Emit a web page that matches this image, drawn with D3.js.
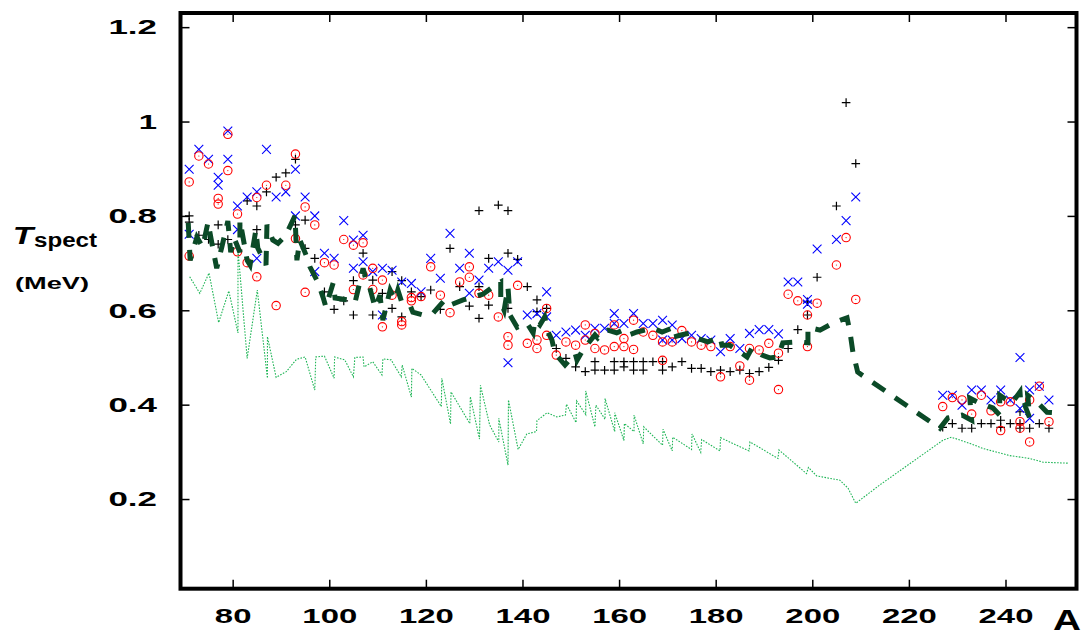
<!DOCTYPE html>
<html>
<head>
<meta charset="utf-8">
<script src="https://cdn.jsdelivr.net/npm/d3@7"></script>
<style>
  html, body { margin: 0; padding: 0; background: #fff; }
  svg { display: block; }
  text { font-family: "Liberation Sans", Arial, sans-serif; }
</style>
</head>
<body>
<svg id="chart" width="1087" height="637"></svg>
<script>
// Axis ranges and ticks
const xDomain = [69.2, 254.7];
const yDomain = [0.01, 1.23];
const xTicks = [80, 100, 120, 140, 160, 180, 200, 220, 240];
const yTicks = [0.2, 0.4, 0.6, 0.8, 1.0, 1.2];
const yTickLabels = ["0.2", "0.4", "0.6", "0.8", "1", "1.2"];

// Spectral temperature, black "+" series  [A, T (MeV)]
const plusPoints = [
  [71,0.800],[71,0.787],[73,0.759],[75,0.750],[77,0.781],[77,0.740],[79,0.750],
  [83,0.832],[85,0.821],[85,0.771],[87,0.851],[89,0.882],[91,0.891],[93,0.920],
  [93,0.781],[95,0.791],[95,0.731],[97,0.710],[99,0.639],[101,0.602],[103,0.620],
  [105,0.590],[105,0.663],[107,0.721],[109,0.590],[109,0.664],[111,0.636],[113,0.604],
  [113,0.682],[115,0.586],[115,0.663],[117,0.639],[119,0.629],[121,0.643],[123,0.602],
  [125,0.731],[127,0.650],[129,0.609],[131,0.811],[131,0.583],[131,0.650],[133,0.710],
  [133,0.611],[135,0.823],[137,0.811],[137,0.721],[137,0.604],[139,0.708],[141,0.650],
  [143,0.622],[143,0.597],[145,0.604],[147,0.519],[149,0.498],[151,0.480],[153,0.470],
  [155,0.491],[155,0.473],[157,0.473],[159,0.491],[159,0.473],[161,0.491],[161,0.480],
  [163,0.491],[163,0.473],[165,0.491],[165,0.473],[167,0.491],[169,0.491],[169,0.473],
  [171,0.480],[173,0.491],[175,0.477],[177,0.477],[179,0.470],[181,0.473],[183,0.470],
  [185,0.473],[187,0.466],[189,0.470],[191,0.479],[193,0.494],[195,0.519],[197,0.559],
  [199,0.590],[199,0.618],[201,0.670],[205,0.821],[207,1.040],[209,0.911],
  [227,0.352],[229,0.360],[231,0.350],[233,0.350],[235,0.360],[237,0.360],[239,0.367],
  [239,0.352],[241,0.360],[243,0.360],[243,0.350],[243,0.385],[245,0.350],[247,0.360],
  [249,0.350]
];

// Blue "x" series
const crossPoints = [
  [71,0.899],[71,0.761],[73,0.941],[75,0.920],[77,0.882],[77,0.865],[79,0.980],[79,0.920],
  [81,0.821],[81,0.771],[83,0.840],[85,0.851],[85,0.710],[87,0.941],[89,0.840],[91,0.851],
  [93,0.899],[93,0.800],[95,0.840],[97,0.800],[97,0.682],[99,0.721],[101,0.710],[103,0.790],
  [105,0.749],[105,0.689],[107,0.759],[107,0.703],[109,0.682],[111,0.689],[111,0.590],
  [113,0.685],[115,0.660],[117,0.657],[119,0.639],[121,0.710],[123,0.668],[125,0.763],
  [127,0.689],[129,0.721],[129,0.636],[131,0.664],[133,0.689],[135,0.703],[137,0.685],
  [137,0.489],[139,0.703],[141,0.590],[143,0.593],[145,0.639],[145,0.586],[147,0.547],
  [149,0.554],[151,0.558],[153,0.547],[155,0.562],[157,0.562],[159,0.593],[159,0.572],
  [161,0.572],[163,0.593],[165,0.572],[167,0.572],[169,0.579],[169,0.537],[171,0.569],
  [171,0.537],[173,0.540],[175,0.547],[177,0.540],[179,0.537],[181,0.512],[183,0.540],
  [185,0.519],[187,0.551],[189,0.559],[191,0.559],[193,0.550],[195,0.660],[197,0.660],
  [199,0.623],[199,0.613],[201,0.730],[205,0.750],[207,0.790],[209,0.840],
  [227,0.420],[229,0.420],[231,0.399],[233,0.431],[235,0.431],[237,0.410],[239,0.431],
  [241,0.410],[243,0.500],[243,0.392],[245,0.431],[245,0.371],[247,0.439],[249,0.410]
];

// Red circle series
const circlePoints = [
  [71,0.872],[71,0.715],[73,0.927],[75,0.910],[77,0.837],[77,0.825],[79,0.973],[79,0.896],
  [81,0.804],[81,0.724],[83,0.701],[85,0.839],[85,0.671],[87,0.865],[89,0.610],[91,0.865],
  [93,0.931],[93,0.752],[95,0.819],[95,0.638],[97,0.781],[99,0.701],[101,0.696],[103,0.750],
  [105,0.738],[105,0.644],[107,0.743],[107,0.675],[109,0.689],[109,0.644],[111,0.664],
  [111,0.565],[113,0.632],[115,0.576],[115,0.569],[117,0.627],[117,0.620],[119,0.629],
  [121,0.692],[123,0.632],[125,0.595],[127,0.660],[129,0.692],[129,0.670],[131,0.636],
  [133,0.632],[135,0.586],[137,0.544],[137,0.526],[139,0.653],[141,0.530],[143,0.537],
  [143,0.519],[145,0.604],[145,0.547],[147,0.505],[149,0.533],[151,0.526],[153,0.569],
  [153,0.537],[155,0.551],[155,0.519],[157,0.516],[159,0.569],[159,0.523],[161,0.540],
  [161,0.523],[163,0.579],[163,0.517],[165,0.554],[167,0.547],[169,0.533],[169,0.494],
  [171,0.533],[173,0.557],[175,0.533],[177,0.526],[179,0.523],[181,0.459],[183,0.523],
  [185,0.482],[187,0.452],[187,0.519],[189,0.516],[191,0.530],[193,0.509],[193,0.432],
  [195,0.634],[197,0.620],[199,0.590],[199,0.523],[201,0.615],[205,0.696],[207,0.754],
  [209,0.623],
  [227,0.396],[229,0.415],[231,0.410],[233,0.380],[235,0.420],[237,0.387],[239,0.406],
  [239,0.345],[241,0.406],[243,0.364],[243,0.350],[245,0.410],[245,0.321],[247,0.439],
  [249,0.364]
];

// Dark green dashed curve
const dashedCurve = [
  [70.8,0.785],[71.2,0.706],[72.6,0.755],[73.8,0.734],[74.9,0.787],[75.7,0.742],[76.7,0.689],
  [77.8,0.736],[79.0,0.789],[79.6,0.723],[80.3,0.753],[81.5,0.723],[81.5,0.791],[83.0,0.706],
  [83.6,0.696],[84.8,0.770],[85.2,0.732],[86.9,0.696],[87.1,0.781],[88.3,0.749],[89.4,0.742],
  [91.0,0.759],[92.9,0.800],[93.3,0.706],[93.9,0.749],[95.2,0.717],[96.0,0.692],[97.7,0.658],
  [98.7,0.628],[99.3,0.607],[100.8,0.658],[101.2,0.626],[103.9,0.622],[105.3,0.615],
  [107.0,0.689],[107.6,0.664],[108.4,0.647],[109.5,0.605],[110.5,0.632],[111.1,0.579],
  [112.6,0.643],[113.6,0.622],[114.2,0.643],[115.0,0.617],[116.7,0.611],[117.3,0.596],
  [119.4,0.590],[121.5,0.594],[123.9,0.622],[125.0,0.611],[127.7,0.622],[129.1,0.626],
  [131.8,0.634],[134.3,0.653],[135.5,0.660],[135.5,0.617],[136.2,0.600],[137.0,0.649],
  [137.4,0.590],[138.9,0.564],[140.9,0.573],[142.2,0.552],[142.6,0.579],[143.6,0.569],
  [144.6,0.586],[145.3,0.554],[146.1,0.537],[146.7,0.509],[148.8,0.484],[150.9,0.509],
  [151.3,0.494],[152.5,0.516],[153.3,0.526],[155.0,0.548],[155.6,0.541],[156.7,0.552],
  [157.7,0.558],[159.5,0.552],[160.8,0.558],[161.8,0.547],[163.7,0.554],[165.3,0.558],
  [167.0,0.562],[168.9,0.554],[170.9,0.562],[171.1,0.543],[172.6,0.547],[174.7,0.552],
  [176.1,0.541],[178.4,0.533],[180.9,0.543],[181.3,0.526],[182.9,0.526],[184.4,0.516],
  [186.5,0.501],[187.5,0.520],[189.6,0.505],[191.2,0.499],[192.9,0.501],[193.9,0.531],
  [197.0,0.533],[199.1,0.531],[199.1,0.564],[201.6,0.558],[204.3,0.573],[207.2,0.584],
  [207.8,0.554],[208.4,0.512],[209.4,0.469],[226.4,0.350],[228.1,0.372],[231.0,0.378],
  [233.0,0.367],[232.6,0.414],[234.7,0.403],[237.4,0.393],[238.8,0.378],[238.8,0.420],
  [241.3,0.403],[243.0,0.427],[243.2,0.395],[244.0,0.399],[245.0,0.372],[244.6,0.420],
  [246.5,0.406],[248.6,0.384],[251.3,0.382]
];

// Light green dotted curve
const dottedCurve = [
  [71.1,0.671],[73.2,0.636],[75.1,0.679],[77.1,0.574],[79.2,0.641],[81.1,0.552],[81.1,0.728],
  [83.0,0.498],[85.1,0.643],[87.2,0.456],[87.2,0.544],[89.0,0.458],[91.1,0.470],[93.2,0.496],
  [95.0,0.501],[97.0,0.431],[97.2,0.501],[99.0,0.503],[101.0,0.456],[101.1,0.501],
  [103.2,0.495],[105.0,0.459],[105.3,0.500],[107.0,0.501],[107.2,0.480],[109.0,0.491],
  [110.9,0.463],[111.1,0.497],[112.8,0.495],[114.9,0.459],[115.1,0.484],[117.0,0.416],
  [117.1,0.477],[119.0,0.463],[123.2,0.396],[123.3,0.456],[125.1,0.359],[125.2,0.427],
  [129.1,0.360],[129.2,0.417],[131.1,0.327],[131.3,0.441],[133.2,0.357],[135.1,0.321],
  [135.1,0.371],[137.0,0.272],[137.1,0.410],[139.1,0.305],[140.9,0.338],[142.9,0.343],
  [143.0,0.366],[145.1,0.383],[147.1,0.374],[148.9,0.378],[149.1,0.401],[151.1,0.362],
  [151.2,0.408],[153.1,0.379],[153.1,0.429],[155.0,0.353],[155.2,0.399],[157.1,0.369],
  [157.1,0.413],[159.1,0.343],[159.1,0.383],[161.0,0.324],[161.1,0.360],[163.1,0.343],
  [163.1,0.378],[165.0,0.317],[165.1,0.353],[169.0,0.314],[169.1,0.348],[171.0,0.302],
  [171.1,0.331],[175.0,0.305],[175.1,0.338],[176.9,0.299],[177.1,0.326],[180.9,0.302],
  [181.0,0.330],[186.9,0.302],[187.1,0.321],[192.9,0.286],[193.1,0.304],[198.8,0.254],
  [199.2,0.267],[200.9,0.249],[205.7,0.240],[207.4,0.223],[209.0,0.191],[214.0,0.230],
  [227.1,0.325],[228.8,0.331],[232.6,0.318],[235.4,0.307],[240.9,0.292],[245.0,0.286],
  [247.8,0.278],[253.0,0.276]
];

const svg = d3.select("#chart");
svg.append("rect").attr("width", 1087).attr("height", 637).attr("fill", "#fff");

const x = d3.scaleLinear().domain(xDomain).range([180.5, 1076.5]);
const y = d3.scaleLinear().domain(yDomain).range([588.7, 13]);

// Width of a bold, horizontally stretched numeric label
const labelWidth = s => s.split("").reduce((w, c) => w + (c === "." ? 12 : 18.3), 0);

// Axes with inward ticks, mirrored on top and right
const tickLen = -9;
const gx = svg.append("g").attr("transform", `translate(0,${y.range()[0]})`)
  .call(d3.axisBottom(x).tickValues(xTicks).tickSizeInner(tickLen).tickSizeOuter(0).tickPadding(19.4));
const gy = svg.append("g").attr("transform", `translate(${x.range()[0]},0)`)
  .call(d3.axisLeft(y).tickValues(yTicks).tickFormat((d, i) => yTickLabels[i])
    .tickSizeInner(tickLen).tickSizeOuter(0).tickPadding(23.5));
svg.append("g").attr("transform", `translate(0,${y.range()[1]})`)
  .call(d3.axisTop(x).tickValues(xTicks).tickFormat("").tickSizeInner(tickLen).tickSizeOuter(0));
svg.append("g").attr("transform", `translate(${x.range()[1]},0)`)
  .call(d3.axisRight(y).tickValues(yTicks).tickFormat("").tickSizeInner(tickLen).tickSizeOuter(0));

svg.selectAll(".domain").remove();
svg.selectAll(".tick line").attr("stroke", "#000").attr("stroke-width", 1.5);
[gx, gy].forEach(g => g.selectAll("text")
  .attr("fill", "#000")
  .style("font-size", "21px")
  .style("font-weight", "bold")
  .style("font-family", "'Liberation Sans', Arial, sans-serif")
  .attr("textLength", function () { return labelWidth(this.textContent); })
  .attr("lengthAdjust", "spacingAndGlyphs"));

// Markers
const marks = svg.append("g");
marks.selectAll(".plus").data(plusPoints).join("path")
  .attr("d", d => { const px = x(d[0]), py = y(d[1]), s = 4.3;
    return `M${px - s},${py}H${px + s}M${px},${py - s}V${py + s}`; })
  .attr("stroke", "#000").attr("stroke-width", 1.2).attr("fill", "none");
marks.selectAll(".cross").data(crossPoints).join("path")
  .attr("d", d => { const px = x(d[0]), py = y(d[1]), s = 4.4;
    return `M${px - s},${py - s}L${px + s},${py + s}M${px - s},${py + s}L${px + s},${py - s}`; })
  .attr("stroke", "#0000ff").attr("stroke-width", 1.1).attr("fill", "none");
const circ = marks.selectAll(".circ").data(circlePoints).join("g");
circ.append("circle").attr("cx", d => x(d[0])).attr("cy", d => y(d[1])).attr("r", 4.2)
  .attr("fill", "none").attr("stroke", "#ff0000").attr("stroke-width", 1.1);
circ.append("circle").attr("cx", d => x(d[0])).attr("cy", d => y(d[1])).attr("r", 0.6)
  .attr("fill", "#ff0000");

// Curves
const line = d3.line().x(d => x(d[0])).y(d => y(d[1]));
svg.append("path").datum(dottedCurve).attr("d", line)
  .attr("fill", "none").attr("stroke", "#1fb556").attr("stroke-width", 1.1)
  .attr("stroke-dasharray", "1.6,1.4");
svg.append("path").datum(dashedCurve).attr("d", line)
  .attr("fill", "none").attr("stroke", "#0b4a27").attr("stroke-width", 5)
  .attr("stroke-dasharray", "15,12");

// Frame
svg.append("rect")
  .attr("x", x.range()[0]).attr("y", y.range()[1])
  .attr("width", x.range()[1] - x.range()[0]).attr("height", y.range()[0] - y.range()[1])
  .attr("fill", "none").attr("stroke", "#000").attr("stroke-width", 4);

// Axis titles
svg.append("text").attr("x", 1053).attr("y", 630)
  .attr("textLength", 28).attr("lengthAdjust", "spacingAndGlyphs")
  .style("font-size", "29px").style("font-weight", "bold").text("A");
svg.append("text").attr("x", 12.7).attr("y", 244)
  .attr("textLength", 20.5).attr("lengthAdjust", "spacingAndGlyphs")
  .style("font-size", "24px").style("font-weight", "bold").style("font-style", "italic").text("T");
svg.append("text").attr("x", 34).attr("y", 247)
  .attr("textLength", 63).attr("lengthAdjust", "spacingAndGlyphs")
  .style("font-size", "19.5px").style("font-weight", "bold").text("spect");
svg.append("text").attr("x", 15).attr("y", 289)
  .attr("textLength", 74).attr("lengthAdjust", "spacingAndGlyphs")
  .style("font-size", "16.5px").style("font-weight", "bold").text("(MeV)");
</script>
</body>
</html>
